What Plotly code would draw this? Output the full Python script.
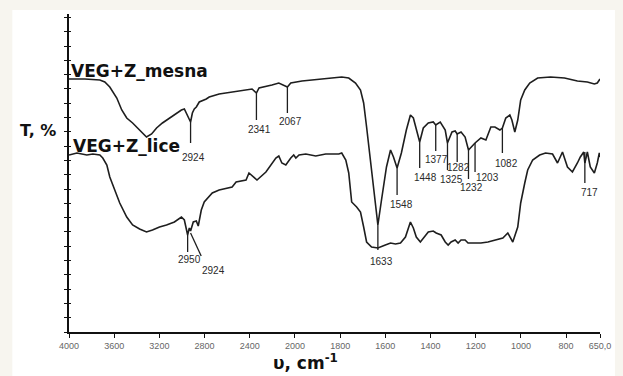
import plotly.graph_objects as go

# ---------------- data ----------------
mesna_wn = [4000, 3859, 3727, 3683, 3639, 3577, 3533, 3489, 3437, 3375, 3331, 3314, 3269, 3225, 3173,
            3111, 3049, 3005, 2979, 2952, 2924, 2908, 2891, 2873, 2847, 2785, 2759, 2671, 2556, 2407,
            2380, 2341, 2318, 2204, 2143, 2067, 2037, 1969, 1894, 1837, 1793, 1762, 1732, 1710, 1696,
            1683, 1666, 1652, 1633, 1617, 1595, 1577, 1564, 1548, 1529, 1507, 1489, 1476, 1463, 1448,
            1432, 1410, 1388, 1377, 1357, 1335, 1325, 1305, 1291, 1282, 1265, 1247, 1232, 1217, 1203,
            1177, 1155, 1133, 1115, 1093, 1082, 1067, 1049, 1040, 1027, 1014, 1001, 983, 961, 926,
            869, 807, 750, 706, 675, 662, 650]
mesna_T = [253, 253, 252, 250, 245, 234, 222, 214, 209, 202, 196, 195, 198, 204, 209,
           214, 219, 222, 223, 217, 210, 219, 223, 225, 230, 233, 235, 238, 240, 243,
           243, 239, 244, 247, 249, 245, 249, 251, 253, 254, 255, 254, 249, 242, 229,
           205, 172, 139, 107, 132, 165, 182, 175, 164, 179, 202, 217, 214, 202, 190,
           204, 209, 210, 207, 210, 202, 189, 200, 201, 198, 200, 195, 182, 186, 189,
           194, 192, 205, 205, 202, 204, 214, 217, 212, 200, 212, 232, 242, 249, 254,
           255, 254, 251, 250, 248, 249, 253]

lice_wn = [4000, 3930, 3842, 3789, 3727, 3701, 3665, 3639, 3595, 3551, 3489, 3437, 3375, 3314, 3261,
           3199, 3137, 3067, 3005, 2979, 2950, 2935, 2924, 2900, 2873, 2856, 2829, 2803, 2732, 2671,
           2556, 2521, 2433, 2407, 2336, 2257, 2169, 2143, 2116, 2081, 2037, 2011, 1996, 1982, 1952,
           1908, 1864, 1806, 1793, 1775, 1762, 1749, 1727, 1710, 1696, 1683, 1661, 1633, 1600, 1577,
           1555, 1533, 1511, 1489, 1476, 1463, 1445, 1432, 1410, 1388, 1375, 1353, 1335, 1322, 1309,
           1291, 1278, 1265, 1247, 1234, 1203, 1177, 1146, 1115, 1080, 1058, 1036, 1014, 1001, 983,
           970, 948, 917, 891, 860, 838, 816, 794, 772, 750, 737, 722, 717, 706, 693,
           675, 662, 653, 650]
lice_T = [177, 179, 177, 178, 177, 174, 167, 155, 142, 129, 115, 107, 103, 100, 102,
          105, 107, 110, 115, 112, 97, 104, 101, 110, 111, 106, 122, 130, 139, 142,
          145, 150, 152, 159, 152, 160, 174, 176, 169, 167, 174, 177, 174, 177, 178,
          176, 178, 178, 179, 172, 159, 130, 125, 120, 105, 90, 85, 84, 87, 89,
          88, 89, 95, 110, 104, 95, 90, 94, 100, 101, 99, 97, 90, 87, 90,
          92, 89, 92, 92, 89, 89, 89, 90, 92, 94, 99, 90, 105, 129, 149,
          162, 172, 177, 179, 178, 169, 180, 165, 160, 169, 175, 180, 169, 180, 165,
          159, 169, 179, 175]

# peak marks: wavenumber, line top, line bottom, label level
peak_wn = [2924, 2341, 2067, 1633, 1548, 1448, 1377, 1325, 1282, 1232, 1203, 1082, 717, 2950]
peak_top = [210, 239, 245, 107, 164, 190, 207, 189, 198, 182, 189, 204, 180, 97]
peak_bottom = [189, 212, 219, 82, 137, 164, 181, 162, 170, 153, 160, 179, 149, 80]
peak_label_T = [175, 203, 211, 71, 128, 155, 173, 153, 165, 145, 155, 169, 140, 73]
peak_label_dx = [3, 3, 3, 4, 4, 6, 1, 4, 1, 3, 12, 4, 5, 2]

# diagonal mark for lice 2924
diag_wn = [2924, 2830]
diag_T = [99, 76]
diag_label_T = 62

tick_wn = [4000, 3600, 3200, 2800, 2400, 2000, 1800, 1600, 1400, 1200, 1000, 800, 650]
tick_text = ["4000", "3600", "3200", "2800", "2400", "2000", "1800", "1600", "1400", "1200",
             "1000", "800", "650,0"]


def tx(w):
    # split wavenumber scale: above 2000 cm-1 compressed by a factor of 2
    return w if w <= 2000 else 2000 + (w - 2000) / 2.0


INK = "#1e1e1e"
fig = go.Figure()
for wn, T in ((mesna_wn, mesna_T), (lice_wn, lice_T)):
    fig.add_trace(go.Scatter(x=[tx(w) for w in wn], y=T, mode="lines",
                             line=dict(color=INK, width=1.6), showlegend=False,
                             hoverinfo="skip"))

shapes = [dict(type="rect", xref="paper", yref="paper", x0=-0.1067, x1=1.0281,
               y0=-0.1384, y1=1.0126, fillcolor="white", line=dict(width=0), layer="below")]
annotations = []
lab_font = dict(family="Liberation Sans, Arial", size=10, color="#2a2a2a")
for w, t0, t1, lt, dx in zip(peak_wn, peak_top, peak_bottom, peak_label_T, peak_label_dx):
    shapes.append(dict(type="line", xref="x", yref="y", x0=tx(w), x1=tx(w), y0=t0, y1=t1,
                       line=dict(color=INK, width=1.3)))
    annotations.append(dict(x=tx(w), y=lt, xref="x", yref="y", text=str(w), showarrow=False,
                            xshift=dx, font=lab_font))
shapes.append(dict(type="line", xref="x", yref="y", x0=tx(diag_wn[0]), x1=tx(diag_wn[1]),
                   y0=diag_T[0], y1=diag_T[1], line=dict(color=INK, width=1.3)))
annotations.append(dict(x=tx(diag_wn[1]), y=diag_label_T, xref="x", yref="y", text="2924",
                        showarrow=False, xshift=12, font=lab_font))

big = dict(family="DejaVu Sans", size=17, color="#111")
annotations += [
    dict(x=0, y=0.821, xref="paper", yref="paper", text="<b>VEG+Z_mesna</b>", showarrow=False,
         xanchor="left", yanchor="middle", font=big),
    dict(x=0.004, y=0.585, xref="paper", yref="paper", text="<b>VEG+Z_lice</b>", showarrow=False,
         xanchor="left", yanchor="middle", font=big),
    dict(x=-0.058, y=0.635, xref="paper", yref="paper", text="<b>T, %</b>", showarrow=False,
         xanchor="center", yanchor="middle", font=dict(family="DejaVu Sans", size=16, color="#111")),
    dict(x=0.445, y=-0.094, xref="paper", yref="paper", text="<b>υ, cm<sup>-1</sup></b>",
         showarrow=False, xanchor="center", yanchor="middle", font=big),
]

fig.update_layout(
    width=623, height=376,
    margin=dict(l=69, r=20, t=14, b=44),
    paper_bgcolor="#f7f5ef", plot_bgcolor="white",
    shapes=shapes, annotations=annotations,
    xaxis=dict(range=[tx(4000), tx(650)], tickmode="array",
               tickvals=[tx(w) for w in tick_wn], ticktext=tick_text,
               showgrid=False, zeroline=False, showline=True, linecolor="#111", linewidth=1.5,
               ticks="outside", ticklen=4, tickcolor="#111", tickwidth=1,
               tickfont=dict(family="Liberation Sans, Arial", size=9, color="#666")),
    yaxis=dict(range=[0, 318], showgrid=False, zeroline=False, showline=True,
               linecolor="#111", linewidth=1.5, ticks="outside", ticklen=3, tickwidth=1.2,
               tickcolor="#111", tick0=0, dtick=14.3, showticklabels=False),
    yaxis2=dict(range=[0, 318], overlaying="y", side="left", showgrid=False, zeroline=False,
                showline=False, ticks="inside", ticklen=2, tickwidth=1.2, tickcolor="#111",
                tick0=0, dtick=14.3, showticklabels=False),
)
fig.add_trace(go.Scatter(x=[tx(4000)], y=[0], yaxis="y2", mode="markers",
                         marker=dict(opacity=0), showlegend=False, hoverinfo="skip"))

fig.write_html("out.html")
